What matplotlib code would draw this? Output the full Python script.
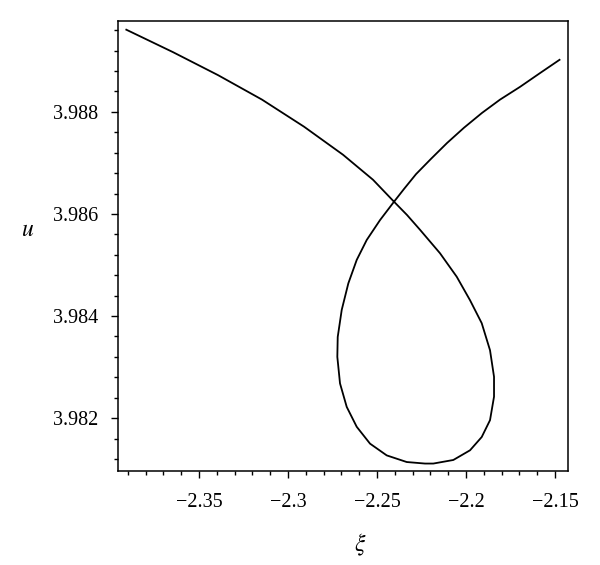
import matplotlib
matplotlib.use("Agg")
import matplotlib.pyplot as plt
from matplotlib.ticker import MultipleLocator

# points, in drawing order
# upper-left branch down to the crossing
xi_left = [-2.39084, -2.36461, -2.33933, -2.31461, -2.29101, -2.26910, -2.25225, -2.24045]
u_left = [3.98961, 3.98917, 3.98872, 3.98824, 3.98771, 3.98716, 3.98667, 3.98624]

# the loop, clockwise from the crossing back to it
xi_loop = [-2.23315, -2.22584, -2.21461, -2.20522, -2.19775, -2.19118, -2.18652, -2.18427,
           -2.18427, -2.18652, -2.19118, -2.19775, -2.20713, -2.21837, -2.22303, -2.23331,
           -2.24455, -2.25393, -2.26140, -2.26702, -2.27079, -2.27230, -2.27208, -2.26983,
           -2.26612, -2.26140, -2.25579, -2.24831, -2.24045]
u_loop = [3.98598, 3.98569, 3.98523, 3.98477, 3.98431, 3.98386, 3.98333, 3.98281,
          3.98242, 3.98196, 3.98163, 3.98137, 3.98118, 3.98111, 3.98111, 3.98114,
          3.98127, 3.98150, 3.98183, 3.98222, 3.98268, 3.98320, 3.98359, 3.98412,
          3.98464, 3.98510, 3.98549, 3.98588, 3.98624]

# upper-right branch from the crossing
xi_right = [-2.23483, -2.22809, -2.21966, -2.21067, -2.20112, -2.19101, -2.18090,
            -2.16966, -2.15843, -2.14747]
u_right = [3.98649, 3.98678, 3.98708, 3.98739, 3.98769, 3.98798, 3.98824,
           3.98849, 3.98876, 3.98902]

xticks = [-2.35, -2.3, -2.25, -2.2, -2.15]
yticks = [3.982, 3.984, 3.986, 3.988]

plt.rcParams['font.family'] = ['Liberation Serif', 'DejaVu Serif']
plt.rcParams['mathtext.fontset'] = 'stix'

fig = plt.figure(figsize=(6, 5.65), dpi=100)
ax = fig.add_axes([0.1967, 0.1669, 0.75, 0.7959])

xi = xi_left + xi_loop + xi_right
u = u_left + u_loop + u_right
ax.plot(xi, u, color='black', lw=1.3, solid_joinstyle='round')

ax.set_xlim(-2.3955, -2.1427)
ax.set_ylim(3.98097, 3.98978)

ax.set_xticks(xticks)
ax.set_xticklabels(['\u2212' + str(abs(t)) for t in xticks])
ax.set_yticks(yticks)
ax.set_yticklabels([str(t) for t in yticks])
ax.xaxis.set_minor_locator(MultipleLocator(0.01))
ax.yaxis.set_minor_locator(MultipleLocator(0.0004))

ax.tick_params(which='both', direction='out', top=False, right=False,
               labelsize=14.5, width=1.0, colors='black')
ax.tick_params(which='major', length=5)
ax.tick_params(which='minor', length=3)
ax.tick_params(axis='x', which='major', pad=11)
ax.tick_params(axis='y', which='major', pad=9)

for s in ax.spines.values():
    s.set_linewidth(1.1)

ax.set_xlabel(r'$\xi$', fontsize=17)
ax.xaxis.set_label_coords(0.538, -0.135)
ax.set_ylabel(r'$u$', fontsize=17, rotation=0)
ax.yaxis.set_label_coords(-0.2, 0.51)

fig.savefig('out.png', dpi=100)
